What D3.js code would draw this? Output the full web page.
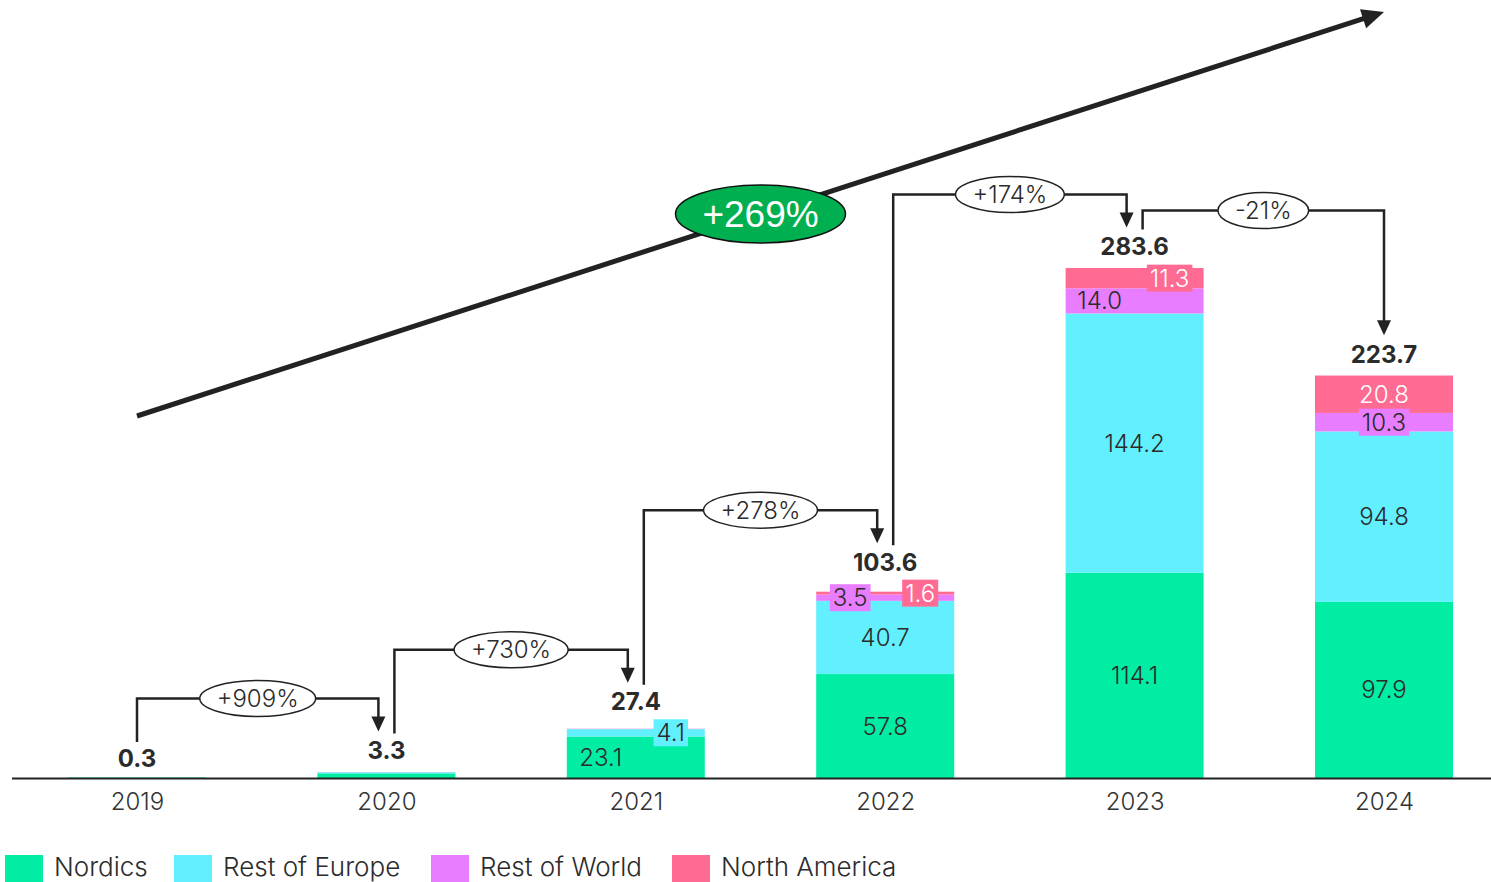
<!DOCTYPE html>
<html>
<head>
<meta charset="utf-8">
<script src="https://cdn.jsdelivr.net/npm/d3@7"></script>
<style>
  html, body { margin: 0; padding: 0; background: #fff; }
  svg { display: block; font-family: Inter, "Noto Sans", sans-serif; }
</style>
</head>
<body>
<svg id="chart" width="1491" height="882"></svg>
<script>
// ---- data (values in millions) ----
const years = ["2019", "2020", "2021", "2022", "2023", "2024"];
const nordics      = [0.3, 2.6, 23.1, 57.8, 114.1, 97.9];
const restOfEurope = [0.0, 0.6, 4.1, 40.7, 144.2, 94.8];
const restOfWorld  = [0.0, 0.1, 0.1, 3.5, 14.0, 10.3];
const northAmerica = [0.0, 0.0, 0.1, 1.6, 11.3, 20.8];
const totals       = [0.3, 3.3, 27.4, 103.6, 283.6, 223.7];
const growthLabels = ["+909%", "+730%", "+278%", "+174%", "-21%"];
const overallGrowth = "+269%";
const seriesNames = ["Nordics", "Rest of Europe", "Rest of World", "North America"];

// ---- styling ----
const colors = {
  "Nordics": "#00EDA3",
  "Rest of Europe": "#62F0FF",
  "Rest of World": "#E87EFF",
  "North America": "#FF6B93"
};
const textColors = {
  "Nordics": "#2b2b2b",
  "Rest of Europe": "#2b2b2b",
  "Rest of World": "#2b2b2b",
  "North America": "#ffffff"
};
// where small segment labels sit inside a bar
const labelAnchor = {
  "2021": { "Nordics": "left", "Rest of Europe": "right" },
  "2022": { "Rest of World": "left", "North America": "right" },
  "2023": { "Rest of World": "left", "North America": "right" }
};
const minLabelYear = 2021;
const ink = "#222";

const svg = d3.select("#chart");

const rows = years.map((y, i) => ({
  year: y,
  "Nordics": nordics[i],
  "Rest of Europe": restOfEurope[i],
  "Rest of World": restOfWorld[i],
  "North America": northAmerica[i],
  total: totals[i]
}));

const stacked = d3.stack().keys(seriesNames)(rows);

const x = d3.scalePoint().domain(years).range([137, 1384]);
const barW = 138;
const y = d3.scaleLinear().domain([0, 300]).range([778, 238.5]);

// ---- bars ----
const gBars = svg.append("g");
stacked.forEach(layer => {
  gBars.selectAll(null)
    .data(layer)
    .join("rect")
    .attr("x", d => x(d.data.year) - barW / 2)
    .attr("width", barW)
    .attr("y", d => y(d[1]))
    .attr("height", d => Math.max(0, y(d[0]) - y(d[1])))
    .attr("fill", colors[layer.key]);
});

// ---- segment labels ----
const gLab = svg.append("g").attr("font-size", 24).attr("font-weight", 300);
const boxTop = {};
stacked.forEach(layer => {
  layer.forEach(d => {
    const yr = d.data.year;
    const v = d.data[layer.key];
    if (+yr < minLabelYear || v < 1) return;
    const anchor = (labelAnchor[yr] && labelAnchor[yr][layer.key]) || "center";
    const cx = x(yr);
    let tx = cx;
    if (anchor === "left") tx = cx - barW / 2 + 34;
    if (anchor === "right") tx = cx + barW / 2 - 34;
    const ty = (y(d[0]) + y(d[1])) / 2;
    const segH = y(d[0]) - y(d[1]);
    const g = gLab.append("g");
    const t = g.append("text")
      .attr("x", tx).attr("y", ty)
      .attr("text-anchor", "middle")
      .attr("dominant-baseline", "central")
      .attr("fill", textColors[layer.key])
      .text(v.toFixed(1));
    if (segH < 22) {
      const w = t.node().getComputedTextLength() + 6;
      const h = 27;
      g.insert("rect", "text")
        .attr("x", tx - w / 2).attr("y", ty - h / 2)
        .attr("width", w).attr("height", h)
        .attr("fill", colors[layer.key]);
      boxTop[yr] = Math.min(boxTop[yr] ?? Infinity, ty - h / 2);
    }
  });
});

// ---- totals above bars ----
const totalBase = years.map((yr, i) => {
  let b = y(totals[i]) - 13;
  if (totals[i] < 1) b += 3;
  if (boxTop[yr] !== undefined) b = Math.min(b, boxTop[yr] - 9);
  return b;
});
const capH = 17.5;
svg.append("g")
  .selectAll("text")
  .data(years)
  .join("text")
  .attr("x", d => x(d))
  .attr("y", (d, i) => totalBase[i])
  .attr("text-anchor", "middle")
  .attr("font-size", 24)
  .attr("font-weight", 700)
  .attr("fill", "#2b2b2b")
  .text((d, i) => totals[i].toFixed(1));

// ---- baseline & year axis ----
svg.append("line")
  .attr("x1", 12).attr("x2", 1491)
  .attr("y1", 778.5).attr("y2", 778.5)
  .attr("stroke", ink).attr("stroke-width", 2);

const axis = svg.append("g")
  .attr("transform", "translate(0,779)")
  .call(d3.axisBottom(x).tickSize(0).tickPadding(14));
axis.select(".domain").remove();
axis.selectAll("text")
  .attr("font-family", "Inter, sans-serif")
  .attr("font-size", 24)
  .attr("font-weight", 300)
  .attr("fill", "#333");

// ---- year-over-year connectors ----
const gConn = svg.append("g");
const last = years.length - 1;
growthLabels.forEach((lab, i) => {
  const sx = i === 0 ? x(years[i]) : x(years[i]) + 8;
  const ex = i + 1 === last ? x(years[i + 1]) : x(years[i + 1]) - 8;
  const sy = totalBase[i] - capH - 8;
  const tipY = totalBase[i + 1] - capH - 10;
  const elbow = tipY < sy ? tipY - 33 : sy - 19;
  const headH = 15, headW = 14;
  gConn.append("path")
    .attr("d", d3.line()([[sx, sy], [sx, elbow], [ex, elbow], [ex, tipY - headH + 1]]))
    .attr("fill", "none")
    .attr("stroke", ink)
    .attr("stroke-width", 2.5);
  gConn.append("path")
    .attr("d", `M${ex - headW / 2},${tipY - headH} L${ex + headW / 2},${tipY - headH} L${ex},${tipY} Z`)
    .attr("fill", ink);
  const mx = (sx + ex) / 2;
  const t = gConn.append("text")
    .attr("x", mx).attr("y", elbow)
    .attr("text-anchor", "middle")
    .attr("dominant-baseline", "central")
    .attr("font-size", 24)
    .attr("font-weight", 300)
    .attr("fill", "#2b2b2b")
    .text(lab);
  const rx = t.node().getComputedTextLength() / 2 + 17;
  gConn.insert("ellipse", "text:last-of-type")
    .attr("cx", mx).attr("cy", elbow)
    .attr("rx", rx).attr("ry", 18)
    .attr("fill", "#fff")
    .attr("stroke", ink)
    .attr("stroke-width", 1.5);
  t.raise();
});

// ---- overall trend arrow ----
const a0 = [137, 416], a1 = [1384, 12];
const ang = Math.atan2(a1[1] - a0[1], a1[0] - a0[0]);
const hl = 22, hw = 10;
const back = [a1[0] - hl * Math.cos(ang), a1[1] - hl * Math.sin(ang)];
const gTrend = svg.append("g");
gTrend.append("line")
  .attr("x1", a0[0]).attr("y1", a0[1])
  .attr("x2", back[0] + 2 * Math.cos(ang)).attr("y2", back[1] + 2 * Math.sin(ang))
  .attr("stroke", ink).attr("stroke-width", 5);
gTrend.append("path")
  .attr("d", `M${a1[0]},${a1[1]} L${back[0] - hw * Math.sin(ang)},${back[1] + hw * Math.cos(ang)} L${back[0] + hw * Math.sin(ang)},${back[1] - hw * Math.cos(ang)} Z`)
  .attr("fill", ink);
const tMid = 0.5;
const gx = a0[0] + (a1[0] - a0[0]) * tMid, gy = a0[1] + (a1[1] - a0[1]) * tMid;
gTrend.append("ellipse")
  .attr("cx", gx).attr("cy", gy)
  .attr("rx", 85).attr("ry", 29)
  .attr("fill", "#00B050")
  .attr("stroke", "#111")
  .attr("stroke-width", 1.5);
gTrend.append("text")
  .attr("x", gx).attr("y", gy)
  .attr("text-anchor", "middle")
  .attr("dominant-baseline", "central")
  .attr("font-family", "'Liberation Sans', Arial, sans-serif")
  .attr("font-size", 37)
  .attr("fill", "#fff")
  .text(overallGrowth);

// ---- legend ----
const legendX = [5, 174, 431, 672];
const gLeg = svg.append("g");
seriesNames.forEach((s, i) => {
  gLeg.append("rect")
    .attr("x", legendX[i]).attr("y", 855)
    .attr("width", 38).attr("height", 27)
    .attr("fill", colors[s]);
  gLeg.append("text")
    .attr("x", legendX[i] + 49).attr("y", 876)
    .attr("font-size", 26)
    .attr("font-weight", 300)
    .attr("fill", "#2b2b2b")
    .text(s);
});
</script>
</body>
</html>
